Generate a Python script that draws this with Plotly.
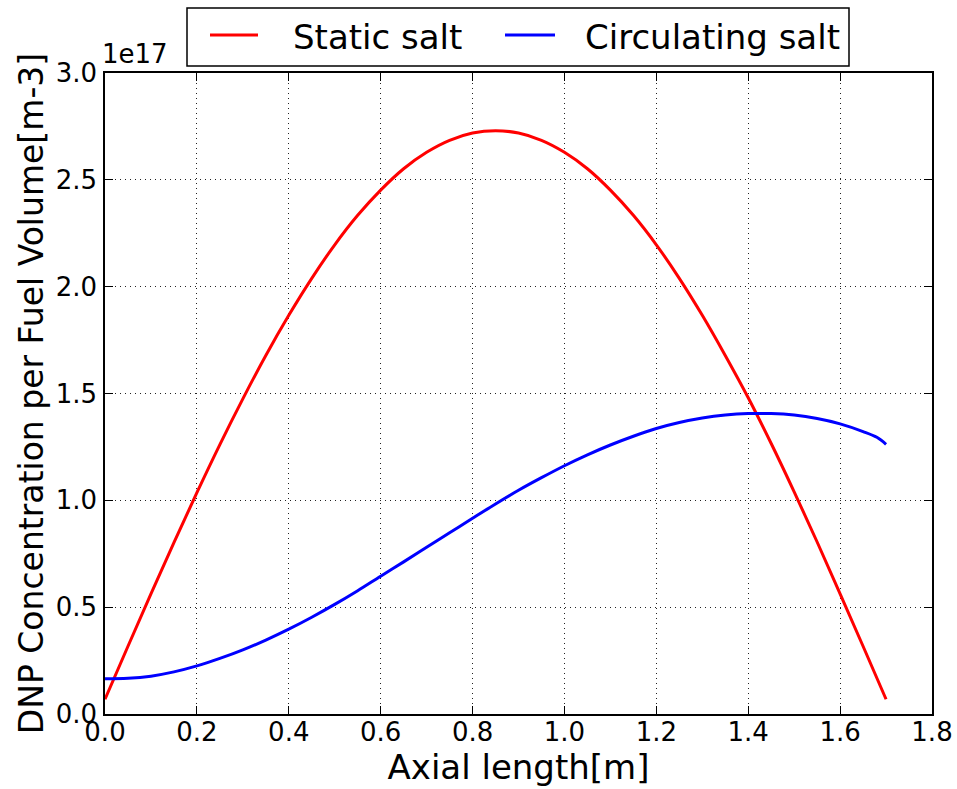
import plotly.graph_objects as go

# Axial positions [m]
axial_static = [0.00, 0.05, 0.10, 0.15, 0.20, 0.25, 0.30, 0.35, 0.40, 0.45,
                0.50, 0.55, 0.60, 0.65, 0.70, 0.75, 0.80, 0.85, 0.90, 0.95,
                1.00, 1.05, 1.10, 1.15, 1.20, 1.25, 1.30, 1.35, 1.40, 1.45,
                1.50, 1.55, 1.60, 1.65, 1.70]
axial_circ = [0.00, 0.05, 0.10, 0.15, 0.20, 0.25, 0.30, 0.35, 0.40, 0.45,
              0.50, 0.55, 0.60, 0.65, 0.70, 0.75, 0.80, 0.85, 0.90, 0.95,
              1.00, 1.05, 1.10, 1.15, 1.20, 1.25, 1.30, 1.35, 1.40, 1.45,
              1.50, 1.55, 1.60, 1.65, 1.68, 1.70]

# DNP concentration per fuel volume, in units of 1e17 m^-3
static_salt = [0.069, 0.317, 0.562, 0.802, 1.036, 1.261, 1.475, 1.678, 1.866, 2.039,
               2.196, 2.334, 2.452, 2.552, 2.629, 2.685, 2.719, 2.730, 2.719, 2.685,
               2.629, 2.552, 2.452, 2.334, 2.196, 2.039, 1.866, 1.678, 1.480, 1.266,
               1.040, 0.805, 0.562, 0.317, 0.069]
circulating_salt = [0.165, 0.167, 0.177, 0.197, 0.225, 0.260, 0.300, 0.346, 0.397, 0.453,
                    0.513, 0.577, 0.645, 0.712, 0.780, 0.848, 0.916, 0.983, 1.047, 1.106,
                    1.162, 1.213, 1.259, 1.300, 1.336, 1.364, 1.385, 1.399, 1.406, 1.406,
                    1.399, 1.383, 1.358, 1.322, 1.295, 1.262]

x_ticks = [0.0, 0.2, 0.4, 0.6, 0.8, 1.0, 1.2, 1.4, 1.6, 1.8]
y_ticks = [0.0, 0.5, 1.0, 1.5, 2.0, 2.5, 3.0]

series_names = ["Static salt", "Circulating salt"]
series_colors = ["#ff0000", "#0000ff"]

FONT = "DejaVu Sans, Verdana, sans-serif"
TITLE_SIZE = 34
TICK_SIZE = 26

fig = go.Figure()
fig.add_trace(go.Scatter(x=axial_static, y=static_salt, mode="lines",
                         name=series_names[0],
                         line=dict(color=series_colors[0], width=3, shape="spline", smoothing=1.0)))
fig.add_trace(go.Scatter(x=axial_circ, y=circulating_salt, mode="lines",
                         name=series_names[1],
                         line=dict(color=series_colors[1], width=3, shape="spline", smoothing=1.0)))

axis_common = dict(
    showline=True, linecolor="black", linewidth=1.5, mirror="ticks",
    ticks="inside", ticklen=8, tickwidth=1, tickcolor="black",
    showgrid=True, gridcolor="#222222", gridwidth=1, griddash="1px,4px",
    zeroline=False, tickfont=dict(family=FONT, size=TICK_SIZE, color="black"),
)

fig.update_xaxes(range=[0, 1.8], tickvals=x_ticks,
                 ticktext=[f"{v:.1f}" for v in x_ticks],
                 title=dict(text="Axial length[m]",
                            font=dict(family=FONT, size=TITLE_SIZE, color="black"),
                            standoff=8),
                 ticklabelstandoff=-6,
                 **axis_common)
fig.update_yaxes(range=[0, 3.0], tickvals=y_ticks,
                 ticktext=[f"{v:.1f}" for v in y_ticks],
                 title=dict(text="DNP Concentration per Fuel Volume[m-3]",
                            font=dict(family=FONT, size=33, color="black"), standoff=2),
                 ticklabelstandoff=1,
                 **axis_common)

# Legend drawn in paper coordinates above the plot frame
plot_l, plot_r, plot_t, plot_b = 105, 932, 73, 714
pw, ph = plot_r - plot_l, plot_b - plot_t


def px(xp):
    return (xp - plot_l) / pw


def py(yp):
    return (plot_b - yp) / ph


shapes = [dict(type="rect", xref="paper", yref="paper",
               x0=px(187), x1=px(849), y0=py(66), y1=py(8),
               line=dict(color="black", width=1.5), fillcolor="white", layer="above")]
annotations = []
legend_items = [(210, 258, 291), (505, 555, 583)]
for (sx0, sx1, tx), name, color in zip(legend_items, series_names, series_colors):
    shapes.append(dict(type="line", xref="paper", yref="paper",
                       x0=px(sx0), x1=px(sx1), y0=py(35), y1=py(35),
                       line=dict(color=color, width=3), layer="above"))
    annotations.append(dict(xref="paper", yref="paper", x=px(tx), y=py(37),
                            xanchor="left", yanchor="middle", showarrow=False,
                            text=name, font=dict(family=FONT, size=TITLE_SIZE, color="black")))

# Exponent offset label for the y axis
annotations.append(dict(xref="paper", yref="paper", x=px(100), y=py(71),
                        xanchor="left", yanchor="bottom", showarrow=False,
                        text="1e17", font=dict(family=FONT, size=TICK_SIZE, color="black")))

fig.update_layout(
    width=957, height=789,
    margin=dict(l=plot_l, r=957 - plot_r, t=plot_t, b=789 - plot_b, autoexpand=False),
    paper_bgcolor="white", plot_bgcolor="white",
    showlegend=False, shapes=shapes, annotations=annotations,
    font=dict(family=FONT, color="black"),
)

fig.write_html("out.html")
